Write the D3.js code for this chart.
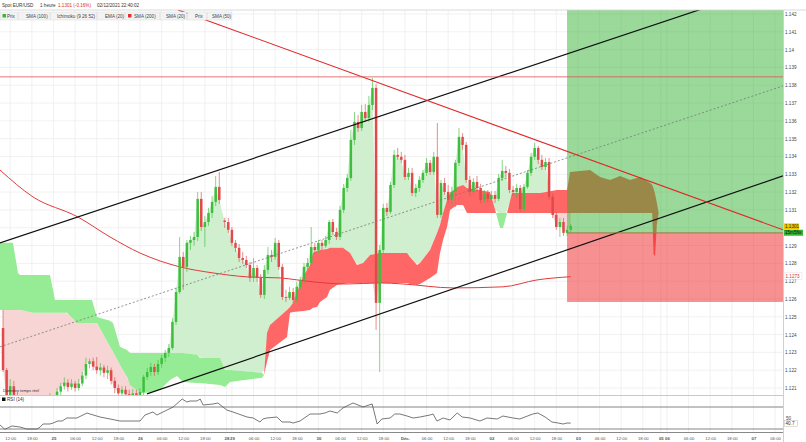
<!DOCTYPE html>
<html><head><meta charset="utf-8">
<script src="https://cdn.jsdelivr.net/npm/d3@7"></script>
<style>body{margin:0;background:#fff}svg{display:block}text{font-family:"Liberation Sans",Arial,sans-serif}</style>
</head><body><svg id="c" width="806" height="442"></svg>
<script>
// ---------- DATA ----------
const sessions = [{start:10,count:61},{start:71.5,count:97}]; // trading-hour index of first candle
const candleOpen = [1.12437,1.12201,1.12040,1.12110,1.12050,1.11990,1.12020,1.11960,1.11890,1.11950,1.12010,1.11980,1.12030,1.12000,1.12040,1.12020,1.12080,1.12110,1.12130,1.12105,1.12125,1.12100,1.12125,1.12170,1.12235,1.12250,1.12220,1.12200,1.12215,1.12185,1.12200,1.12140,1.12100,1.12070,1.12090,1.12065,1.12050,1.12070,1.12055,1.12078,1.12162,1.12190,1.12218,1.12190,1.12235,1.12269,1.12297,1.12325,1.12471,1.12639,1.12836,1.12780,1.12915,1.12931,1.12948,1.13162,1.13004,1.13032,1.13083,1.13145,1.13229,
1.13040,1.13032,1.12988,1.12915,1.12887,1.12830,1.12819,1.12791,1.12718,1.12774,1.12718,1.12623,1.12763,1.12847,1.12836,1.12915,1.12780,1.12611,1.12606,1.12639,1.12594,1.12668,1.12707,1.12780,1.12802,1.12892,1.12875,1.12915,1.12898,1.12931,1.13032,1.12976,1.12948,1.13100,1.13223,1.13279,1.13493,1.13594,1.13560,1.13650,1.13616,1.13689,1.13785,1.12578,1.12875,1.13111,1.13089,1.13240,1.13409,1.13398,1.13381,1.13285,1.13308,1.13195,1.13223,1.13268,1.13308,1.13364,1.13313,1.13398,1.13072,1.13251,1.13201,1.13156,1.13201,1.13364,1.13510,1.13465,1.13268,1.13201,1.13257,1.13223,1.13156,1.13190,1.13162,1.13184,1.13162,1.13279,1.13319,1.13308,1.13212,1.13201,1.13223,1.13105,1.13229,1.13308,1.13398,1.13448,1.13381,1.13341,1.13369,1.13173,1.13072,1.13004,1.13032,1.12971,1.12988];
const candleHigh = [1.12538,1.12213,1.12150,1.12140,1.12080,1.12060,1.12040,1.11990,1.11990,1.12050,1.12040,1.12060,1.12060,1.12070,1.12060,1.12100,1.12130,1.12160,1.12150,1.12150,1.12140,1.12150,1.12190,1.12270,1.12265,1.12270,1.12274,1.12240,1.12230,1.12225,1.12215,1.12160,1.12120,1.12110,1.12110,1.12090,1.12095,1.12090,1.12100,1.12173,1.12213,1.12241,1.12235,1.12258,1.12286,1.12314,1.12347,1.12493,1.12662,1.12948,1.12864,1.12931,1.12954,1.12976,1.13201,1.13201,1.13066,1.13111,1.13178,1.13290,1.13313,
1.13055,1.13055,1.13004,1.12931,1.12909,1.12864,1.12842,1.12808,1.12830,1.12791,1.12741,1.12791,1.12892,1.12875,1.12943,1.12931,1.12797,1.12651,1.12668,1.12662,1.12696,1.12724,1.12802,1.12830,1.13004,1.12915,1.12931,1.12931,1.12954,1.13044,1.13049,1.12999,1.13122,1.13246,1.13302,1.13549,1.13650,1.13633,1.13689,1.13695,1.13740,1.13841,1.13807,1.12903,1.13134,1.13139,1.13257,1.13437,1.13448,1.13426,1.13409,1.13336,1.13336,1.13246,1.13291,1.13324,1.13392,1.13381,1.13426,1.13588,1.13268,1.13279,1.13240,1.13229,1.13381,1.13560,1.13532,1.13482,1.13291,1.13279,1.13291,1.13246,1.13212,1.13212,1.13206,1.13206,1.13302,1.13381,1.13347,1.13330,1.13235,1.13246,1.13240,1.13246,1.13324,1.13420,1.13476,1.13459,1.13409,1.13392,1.13392,1.13190,1.13089,1.13055,1.13055,1.13010,1.13021];
const candleLow = [1.12190,1.11980,1.11960,1.11990,1.11930,1.11950,1.11900,1.11860,1.11870,1.11920,1.11940,1.11960,1.11960,1.11980,1.11990,1.12010,1.12060,1.12090,1.12080,1.12090,1.12080,1.12085,1.12110,1.12150,1.12210,1.12200,1.12180,1.12170,1.12160,1.12150,1.12120,1.12070,1.12040,1.12040,1.12030,1.12010,1.12030,1.12030,1.12040,1.12060,1.12145,1.12168,1.12168,1.12173,1.12213,1.12246,1.12274,1.12314,1.12454,1.12628,1.12651,1.12752,1.12875,1.12898,1.12926,1.12982,1.12892,1.13010,1.13055,1.13122,1.13134,
1.12999,1.12971,1.12898,1.12864,1.12808,1.12797,1.12774,1.12696,1.12696,1.12696,1.12606,1.12600,1.12741,1.12808,1.12819,1.12763,1.12594,1.12583,1.12594,1.12578,1.12578,1.12651,1.12684,1.12763,1.12785,1.12853,1.12858,1.12875,1.12887,1.12909,1.12960,1.12931,1.12931,1.13083,1.13201,1.13263,1.13465,1.13538,1.13543,1.13594,1.13594,1.13661,1.12426,1.12190,1.12853,1.13066,1.13077,1.13223,1.13381,1.13364,1.13268,1.13268,1.13178,1.13173,1.13201,1.13251,1.13291,1.13296,1.13296,1.13055,1.13055,1.13184,1.13139,1.13128,1.13117,1.13347,1.13437,1.13251,1.13178,1.13184,1.13201,1.13139,1.13139,1.13145,1.13145,1.13139,1.13150,1.13263,1.13285,1.13195,1.13178,1.13167,1.13089,1.13094,1.13218,1.13291,1.13381,1.13358,1.13324,1.13324,1.13156,1.13055,1.12988,1.12948,1.12954,1.12954,1.12971];
const candleClose = [1.12201,1.12040,1.12110,1.12050,1.11990,1.12020,1.11960,1.11890,1.11950,1.12010,1.11980,1.12030,1.12000,1.12040,1.12020,1.12080,1.12110,1.12130,1.12105,1.12125,1.12100,1.12125,1.12170,1.12235,1.12250,1.12220,1.12200,1.12215,1.12185,1.12200,1.12140,1.12100,1.12070,1.12090,1.12065,1.12050,1.12070,1.12055,1.12078,1.12162,1.12190,1.12218,1.12190,1.12235,1.12269,1.12297,1.12325,1.12471,1.12639,1.12836,1.12780,1.12915,1.12931,1.12948,1.13162,1.13004,1.13032,1.13083,1.13145,1.13229,1.13156,
1.13032,1.12988,1.12915,1.12887,1.12830,1.12819,1.12791,1.12718,1.12774,1.12718,1.12623,1.12763,1.12847,1.12836,1.12915,1.12780,1.12611,1.12606,1.12639,1.12594,1.12668,1.12707,1.12780,1.12802,1.12892,1.12875,1.12915,1.12898,1.12931,1.13032,1.12976,1.12948,1.13100,1.13223,1.13279,1.13493,1.13594,1.13560,1.13650,1.13616,1.13689,1.13785,1.12578,1.12875,1.13111,1.13089,1.13240,1.13409,1.13398,1.13381,1.13285,1.13308,1.13195,1.13223,1.13268,1.13308,1.13364,1.13313,1.13398,1.13072,1.13251,1.13201,1.13156,1.13201,1.13364,1.13510,1.13465,1.13268,1.13201,1.13257,1.13223,1.13156,1.13190,1.13162,1.13184,1.13162,1.13279,1.13319,1.13308,1.13212,1.13201,1.13223,1.13105,1.13229,1.13308,1.13398,1.13448,1.13381,1.13341,1.13369,1.13173,1.13072,1.13004,1.13032,1.12971,1.12988,1.13010];

const smaT = [9.16,18.3,30.8,39.7,48.0,59.1,68.3,77.7,86.8,96.0,105.4,114.6,121.0,134.9,148.7,158.2,167.5];
const smaV = [1.13324,1.13173,1.13060,1.12948,1.12858,1.12780,1.12746,1.12724,1.12718,1.12696,1.12684,1.12690,1.12684,1.12662,1.12668,1.12707,1.12725];

const kumoT = [9.16,12.76,14.15,14.71,18.31,23.03,24.42,27.75,30.52,34.68,36.07,39.68,40.51,42.45,44.40,45.23,48.0,49.39,53.55,56.33,58.27,59.93,63.82,64.65,70.20,71.59,72.97,81.85,82.41,83.24,84.07,88.79,89.62,90.46,93.23,95.17,96.00,97.11,97.95,99.89,100.72,102.66,104.33,106.27,108.21,109.88,111.82,114.60,122.09,122.92,124.86,125.69,128.47,130.41,131.24,132.08,133.19,134.02,135.96,137.63,138.73,145.12,146.78,147.89,148.72,149.83,151.22,158.99,163.71,166.48,167.31,172.86,175.64,178.41,181.19,183.96,186.74,189.51,190.1,190.5,190.9,191.4,191.9];
const senkouA = [1.12538,1.12538,1.12538,1.12538,1.12522,1.12522,1.12522,1.12522,1.12465,1.12465,1.12465,1.12331,1.12303,1.12229,1.12162,1.12117,1.12072,1.12072,1.12089,1.12145,1.12168,1.12134,1.12128,1.12128,1.12117,1.12106,1.12134,1.12157,1.12173,1.12409,1.12454,1.12538,1.12555,1.12578,1.12724,1.12791,1.12858,1.12870,1.12875,1.12881,1.12887,1.12887,1.12887,1.12858,1.12791,1.12802,1.12847,1.12858,1.12858,1.12836,1.12791,1.12802,1.12875,1.12971,1.13016,1.13083,1.13156,1.13195,1.13229,1.13240,1.13223,1.13201,1.13083,1.12999,1.12999,1.13083,1.13195,1.13195,1.13212,1.13212,1.13313,1.13324,1.13285,1.13268,1.13291,1.13268,1.13285,1.13251,1.13240,1.13220,1.13190,1.13140,1.13083];
const senkouB = [1.12915,1.12915,1.12746,1.12735,1.12735,1.12735,1.12594,1.12594,1.12594,1.12594,1.12499,1.12477,1.12465,1.12331,1.12314,1.12297,1.12297,1.12297,1.12297,1.12297,1.12297,1.12297,1.12286,1.12269,1.12269,1.12201,1.12201,1.12185,1.12173,1.12246,1.12314,1.12387,1.12522,1.12527,1.12533,1.12538,1.12550,1.12555,1.12583,1.12611,1.12651,1.12679,1.12684,1.12690,1.12690,1.12690,1.12690,1.12690,1.12690,1.12684,1.12679,1.12684,1.12718,1.12746,1.12858,1.12931,1.13004,1.13100,1.13128,1.13128,1.13083,1.13083,1.13083,1.13083,1.13083,1.13083,1.13083,1.13083,1.13083,1.13083,1.13083,1.13083,1.13083,1.13083,1.13083,1.13083,1.13083,1.13083,1.13083,1.12850,1.12840,1.13020,1.13083];

const rsiT = [9.16,10.5,12.5,14.7,16.6,19.4,20.3,21.1,23.0,23.9,25.2,26.4,27.7,30.5,33.3,34.1,36.9,39.7,42.5,45.2,48.0,49.4,51.6,52.7,55.5,57.2,59.7,61.0,61.9,63.8,64.7,65.5,68.3,69.6,72.1,73.8,77.7,79.4,81.3,82.1,83.2,86.0,87.4,89.6,90.5,92.4,95.2,97.9,99.3,100.7,102.7,104.3,107.1,108.5,109.9,112.4,112.7,113.8,115.1,117.4,118.7,120.1,122.1,123.8,125.7,128.5,129.3,130.4,132.1,134.0,136.0,137.4,139.6,142.3,144.3,147.1,148.7,151.5,153.4,154.8,157.0,158.4,160.4,162.3,164.0,165.4,166.5,167.5];
const rsiV = [37.3,29.5,35.5,33.6,30,30,33.6,39.1,39.1,40.9,44.5,44.5,50,50,59.1,57.3,51.8,48.2,44.5,44.5,44.5,55.5,60.9,55.5,64.5,70,84.5,79.1,80.9,80.9,84.5,73.6,75.5,77.3,64.5,60.9,51.8,50,42.7,48.2,50,51.8,42.7,42.7,40.9,44.5,57.3,57.3,59.1,62.7,59.1,68.2,77.3,73.6,70,75.5,68.2,39.1,48.2,50,57.3,57.3,53.6,50,51.8,55.5,57.3,44.5,50,46.4,59.1,51.8,50,44.5,50,48.2,53.6,50,48.2,51.8,57.3,59.1,51.8,42.7,40.9,39.1,40.9,40.7];

const channelUpper = {t:[9.16,226.4], p:[1.12915,1.14380]};
const channelMid   = {t:[9.16,226.4], p:[1.12331,1.13796]};
const channelLower = {t:[49.94,226.4], p:[1.12067,1.13291]};
const downTrend    = {t:[58.55,226.4], p:[1.14223,1.12988]};
const highLevel = 1.13847;
const tradeStartT = 166.48;
const tradeEntry = 1.12971, tradeStop = 1.12583, tradeTarget = 1.1430;
const lastPrice = 1.1301, lastPriceLabel = "1.1301", countdown = "15m56s";
const smaLast = "1.1273", rsiLast = "40.7";

const yTicks = d3.range(1121, 1143).map(d => d/1000);
const xTickT = [12,18,24,30,36,42,48,54,60,66,72,73.5,79.5,85.5,91.5,97.5,103.5,109.5,115.5,121.5,127.5,133.5,139.5,145.5,151.5,157.5,163.5,169.5,175.5,181.5,187.5,192.5,194.2,200.2,206.2,212.2,218.2,224.2];
const xTickLabels = ['12:00','18:00','25','06:00','12:00','18:00','26','06:00','12:00','18:00','28','29','06:00','12:00','18:00','30','06:00','12:00','18:00','Déc.','06:00','12:00','18:00','02','06:00','12:00','18:00','03','06:00','12:00','18:00','05','06','06:00','12:00','18:00','07','06:00'];
const headerParts = ["Spot EUR/USD","1 heure","1.1301 (-0.16%)","02/12/2021 22:40:02"];
const legendLabels = ["Prix","SMA (100)","Ichimoku (9 26 52)","EMA (20)","SMA (200)","SMA (20)","Prix","SMA (50)"];

// ---------- LAYOUT ----------
const PR = 783, PT = 10, PB = 395, RT = 395, RB = 432;
const svg = d3.select('#c');
const x = d3.scaleLinear().domain([9.16, 226.4]).range([0, PR]);
const y = d3.scaleLinear().domain([1.121, 1.142]).range([388, 14]);
const yr = d3.scaleLinear().domain([30, 70]).range([429, 407]);

svg.append('rect').attr('width',806).attr('height',442).attr('fill','#fff');
const defs = svg.append('defs');
defs.append('clipPath').attr('id','plot').append('rect').attr('x',0).attr('y',PT).attr('width',PR).attr('height',PB-PT);
defs.append('clipPath').attr('id','rsi').append('rect').attr('x',0).attr('y',RT+1).attr('width',PR).attr('height',RB-RT-1);

// grid
const grid = svg.append('g');
grid.selectAll('line.h').data(yTicks).join('line').attr('class','h')
  .attr('x1',0).attr('x2',PR).attr('y1',d=>y(d)).attr('y2',d=>y(d)).attr('stroke','#ebebeb').attr('stroke-width',0.7);
grid.selectAll('line.v').data(xTickT).join('line').attr('class','v')
  .attr('x1',d=>x(d)).attr('x2',d=>x(d)).attr('y1',PT).attr('y2',RB).attr('stroke','#ebebeb').attr('stroke-width',0.7);

const plot = svg.append('g').attr('clip-path','url(#plot)');

// candle times
const times = [];
sessions.forEach(s => { for (let i=0;i<s.count;i++) times.push(s.start+i); });
const candles = times.map((t,i)=>({t,o:candleOpen[i],h:candleHigh[i],l:candleLow[i],c:candleClose[i]}));

// price vs cloud fill
const aAt = d3.scaleLinear().domain(kumoT).range(senkouA).clamp(true);
const bAt = d3.scaleLinear().domain(kumoT).range(senkouB).clamp(true);
const fd = candles.map(d => { const a=aAt(d.t), b=bAt(d.t); return {t:d.t,c:d.c,top:Math.max(a,b),bot:Math.min(a,b)}; });
plot.append('path').datum(fd).attr('fill','#cfefcf')
  .attr('d', d3.area().x(d=>x(d.t)).y0(d=>y(d.top)).y1(d=>y(Math.max(d.c,d.top))));
plot.append('path').datum(fd).attr('fill','#f7d5d5')
  .attr('d', d3.area().x(d=>x(d.t)).y0(d=>y(d.bot)).y1(d=>y(Math.min(d.c,d.bot))));

// kumo
const kumo = kumoT.map((t,i)=>({t,a:senkouA[i],b:senkouB[i]}));
plot.append('path').datum(kumo).attr('fill','#95ec95')
  .attr('d', d3.area().x(d=>x(d.t)).y0(d=>y(d.b)).y1(d=>y(Math.min(d.a,d.b))));
plot.append('path').datum(kumo).attr('fill','#ff6767')
  .attr('d', d3.area().x(d=>x(d.t)).y0(d=>y(d.a)).y1(d=>y(Math.min(d.a,d.b))));

// trade zones
plot.append('rect').attr('x',x(tradeStartT)).attr('width',PR-x(tradeStartT))
  .attr('y',y(tradeTarget)).attr('height',y(tradeEntry)-y(tradeTarget)).attr('fill','rgba(40,175,40,0.47)');
plot.append('rect').attr('x',x(tradeStartT)).attr('width',PR-x(tradeStartT))
  .attr('y',y(tradeEntry)).attr('height',y(tradeStop)-y(tradeEntry)).attr('fill','rgba(240,35,35,0.5)');

// SMA 200
plot.append('path').datum(smaT.map((t,i)=>[t,smaV[i]])).attr('fill','none').attr('stroke','#e33a3a').attr('stroke-width',1)
  .attr('d', d3.line().x(d=>x(d[0])).y(d=>y(d[1])).curve(d3.curveMonotoneX));

// candles
const cg = plot.append('g');
const up = '#3dbf3d', dn = '#e04a4a';
cg.selectAll('line').data(candles).join('line')
  .attr('x1',d=>x(d.t)).attr('x2',d=>x(d.t)).attr('y1',d=>y(d.h)).attr('y2',d=>y(d.l))
  .attr('stroke',d=>d.c>=d.o?up:dn).attr('stroke-width',0.8).attr('stroke-opacity',0.8);
cg.selectAll('rect').data(candles).join('rect')
  .attr('x',d=>x(d.t)-1.25).attr('width',2.5)
  .attr('y',d=>y(Math.max(d.o,d.c))).attr('height',d=>Math.max(0.8,Math.abs(y(d.o)-y(d.c))))
  .attr('fill',d=>d.c>=d.o?up:dn);

// lines
const seg = (o) => d3.line().x(d=>x(d[0])).y(d=>y(d[1]))(o.t.map((t,i)=>[t,o.p[i]]));
plot.append('path').attr('d',seg(channelUpper)).attr('stroke','#111').attr('stroke-width',1.2).attr('fill','none');
plot.append('path').attr('d',seg(channelLower)).attr('stroke','#111').attr('stroke-width',1.2).attr('fill','none');
plot.append('path').attr('d',seg(channelMid)).attr('stroke','#777').attr('stroke-width',0.8).attr('stroke-dasharray','2,2').attr('fill','none');
plot.append('path').attr('d',seg(downTrend)).attr('stroke','#e02828').attr('stroke-width',1.1).attr('fill','none');
plot.append('line').attr('x1',0).attr('x2',PR).attr('y1',y(highLevel)).attr('y2',y(highLevel)).attr('stroke','#e05050').attr('stroke-width',0.8);
plot.append('line').attr('x1',x(tradeStartT)).attr('x2',PR).attr('y1',y(tradeEntry)).attr('y2',y(tradeEntry)).attr('stroke','#9c7b3c').attr('stroke-width',1);

// panel borders
svg.append('line').attr('x1',PR+0.5).attr('x2',PR+0.5).attr('y1',PT).attr('y2',442).attr('stroke','#d0d0d0').attr('stroke-width',1);
svg.append('line').attr('x1',0).attr('x2',806).attr('y1',PT).attr('y2',PT).attr('stroke','#d0d0d0').attr('stroke-width',0.8);
svg.append('line').attr('x1',0).attr('x2',PR).attr('y1',RT+0.5).attr('y2',RT+0.5).attr('stroke','#c8c8c8').attr('stroke-width',1);
svg.append('line').attr('x1',0).attr('x2',PR).attr('y1',RB+0.5).attr('y2',RB+0.5).attr('stroke','#888').attr('stroke-width',1);

// y axis (the 1.13 label sits under the last-price tag, as in the original)
const ya = svg.append('g').attr('transform',`translate(${PR+2},0)`)
  .call(d3.axisRight(y).tickValues(yTicks.filter(d=>Math.abs(d-lastPrice)>0.0005)).tickSize(0).tickPadding(0).tickFormat(d=>String(+d.toFixed(3))));
ya.select('.domain').remove();
ya.selectAll('text').attr('font-size',4.6).attr('fill','#444').attr('font-family','"Liberation Sans",Arial,sans-serif');

// right labels
const lp = svg.append('g');
lp.append('rect').attr('x',PR+1).attr('y',y(lastPrice)-2.5).attr('width',15).attr('height',6).attr('fill','#f2c200');
lp.append('text').attr('x',PR+2).attr('y',y(lastPrice)+2.2).text(lastPriceLabel).attr('font-size',4.6).attr('fill','#222');
lp.append('rect').attr('x',PR+1).attr('y',y(lastPrice)+3.8).attr('width',19).attr('height',6).attr('fill','#36b336');
lp.append('text').attr('x',PR+2).attr('y',y(lastPrice)+8.5).text(countdown).attr('font-size',4.6).attr('fill','#111');
const smaY = y(+smaLast);
lp.append('rect').attr('x',PR+1).attr('y',smaY-3).attr('width',18).attr('height',6.5).attr('fill','#fff').attr('stroke','#ddd').attr('stroke-width',0.5);
lp.append('text').attr('x',PR+2.5).attr('y',smaY+1.8).text(smaLast).attr('font-size',4.6).attr('fill','#e03030');

// RSI panel
const rsi = svg.append('g');
rsi.selectAll('line.lvl').data([70,30]).join('line').attr('class','lvl')
  .attr('x1',0).attr('x2',PR).attr('y1',d=>yr(d)).attr('y2',d=>yr(d)).attr('stroke','#777').attr('stroke-width',0.9);
rsi.append('path').datum(rsiT.map((t,i)=>[t,rsiV[i]])).attr('clip-path','url(#rsi)')
  .attr('fill','none').attr('stroke','#555').attr('stroke-width',0.8)
  .attr('d', d3.line().x(d=>x(d[0])).y(d=>yr(d[1])));
rsi.append('rect').attr('x',2).attr('y',397.5).attr('width',3.5).attr('height',3.5).attr('fill','#111');
rsi.append('text').attr('x',7).attr('y',401).text('RSI (14)').attr('font-size',4.6).attr('fill','#333');
rsi.append('text').attr('x',PR+3).attr('y',yr(50)+1.5).text('50').attr('font-size',4.6).attr('fill','#444');
rsi.append('rect').attr('x',PR+1.5).attr('y',yr(+rsiLast)-2.6).attr('width',13).attr('height',6).attr('fill','#fff').attr('stroke','#bbb').attr('stroke-width',0.5);
rsi.append('text').attr('x',PR+2.5).attr('y',yr(+rsiLast)+1.8).text(rsiLast).attr('font-size',4.6).attr('fill','#333');

// x axis
const xa = svg.append('g').attr('transform',`translate(0,${RB+1})`)
  .call(d3.axisBottom(x).tickValues(xTickT).tickSize(0).tickPadding(3.5).tickFormat((d,i)=>xTickLabels[i]));
xa.select('.domain').remove();
xa.selectAll('text').attr('font-size',4.3).attr('fill','#555').attr('font-family','"Liberation Sans",Arial,sans-serif')
  .attr('font-weight',(d,i)=>xTickLabels[i].includes(':')?'normal':'bold');

// "Données temps réel"
svg.append('text').attr('x',3).attr('y',392).text('Données temps réel').attr('font-size',4).attr('fill','#333');

// header
const hx = [2,40,58,97];
svg.selectAll('text.hd').data(headerParts).join('text').attr('class','hd')
  .attr('x',(d,i)=>hx[i]).attr('y',7.2).text(d=>d).attr('font-size',4.6)
  .attr('fill',(d,i)=>i===2?'#e02a2a':'#333');

// legend
const lgx = [0,18,50,97,125,160,187,207,232];
const lgTx = [7,26,57,105,134,166,195,212];
const lg = svg.append('g');
legendLabels.forEach((l,i)=>{
  lg.append('rect').attr('x',lgx[i]+0.5).attr('y',12).attr('width',lgx[i+1]-lgx[i]-1).attr('height',8)
    .attr('fill','#f3f3f3').attr('stroke','#dadada').attr('stroke-width',0.5);
  lg.append('text').attr('x',lgTx[i]).attr('y',17.8).text(l).attr('font-size',4.6).attr('fill','#444');
});
lg.append('rect').attr('x',2.5).attr('y',14).attr('width',3.5).attr('height',3.5).attr('fill','#3cb43c');
lg.append('rect').attr('x',128).attr('y',14).attr('width',3.5).attr('height',3.5).attr('fill','#e03030');
</script></body></html>
